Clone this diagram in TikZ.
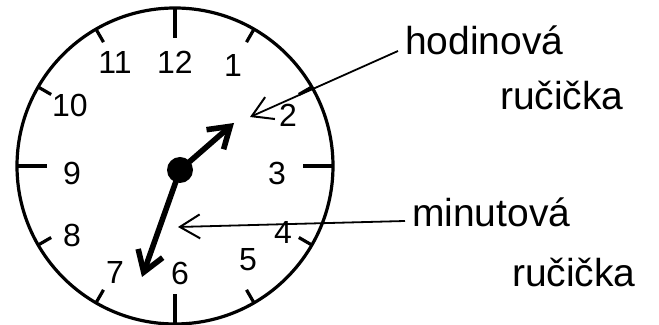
\documentclass[tikz,border=0pt]{standalone}
\usepackage{fontspec}
\setmainfont{Liberation Sans}
\usetikzlibrary{arrows.meta}

\tikzset{
  lbl/.style={font=\fontsize{19.5}{22}\selectfont, anchor=base west},
  num/.style={font=\fontsize{16}{18}\selectfont},
  hand/.style={line width=2.8pt, line cap=round, -{Straight Barb[length=10pt,width=13pt,line width=2.8pt]}},
  ptr/.style={line width=0.9pt, -{Straight Barb[length=10pt,width=12pt,line width=1pt]}}
}

\begin{document}
\begin{tikzpicture}[x=0.5pt,y=-0.5pt]
\useasboundingbox (0,0) rectangle (659,325);
% dial
\coordinate (ctr) at (175,166);
\draw[line width=1.6pt] (ctr) circle (158);
\begin{scope}[shift={(ctr)}]
  \foreach \h in {1,...,12} {
    \pgfmathsetmacro\len{mod(\h,3)==0 ? 30 : 15}
    \draw[line width=1.6pt] (30*\h-90:158) -- (30*\h-90:158-\len);
  }
\end{scope}
\foreach \h/\x/\y in {12/175/62,1/233/65,2/288/115,3/277/173,4/283/232,5/248/260,
                      6/180/273,7/115/272,8/72/235,9/72/173,10/70/105,11/115/62}
  \node[num] (n\h) at (\x,\y) {\h};
% hands
\coordinate (piv) at (180,170);
\draw[hand] (piv) -- (234,123);
\draw[hand] (piv) -- (142,277);
\fill (piv) circle (13);
% labels
\node[lbl] (hodlbl) at (398,55) {hodinová};
\node[lbl] (hodlbl2) at (493,110) {ručička};
\node[lbl] (minlbl) at (405,227) {minutová};
\node[lbl] (minlbl2) at (505,287) {ručička};
\coordinate (hodtip) at (250,117);
\coordinate (mintip) at (178,227);
\draw[ptr] ([yshift=2pt]hodlbl.base west) -- (hodtip);
\draw[ptr] ([yshift=3pt]minlbl.base west) -- (mintip);
\end{tikzpicture}
\end{document}
